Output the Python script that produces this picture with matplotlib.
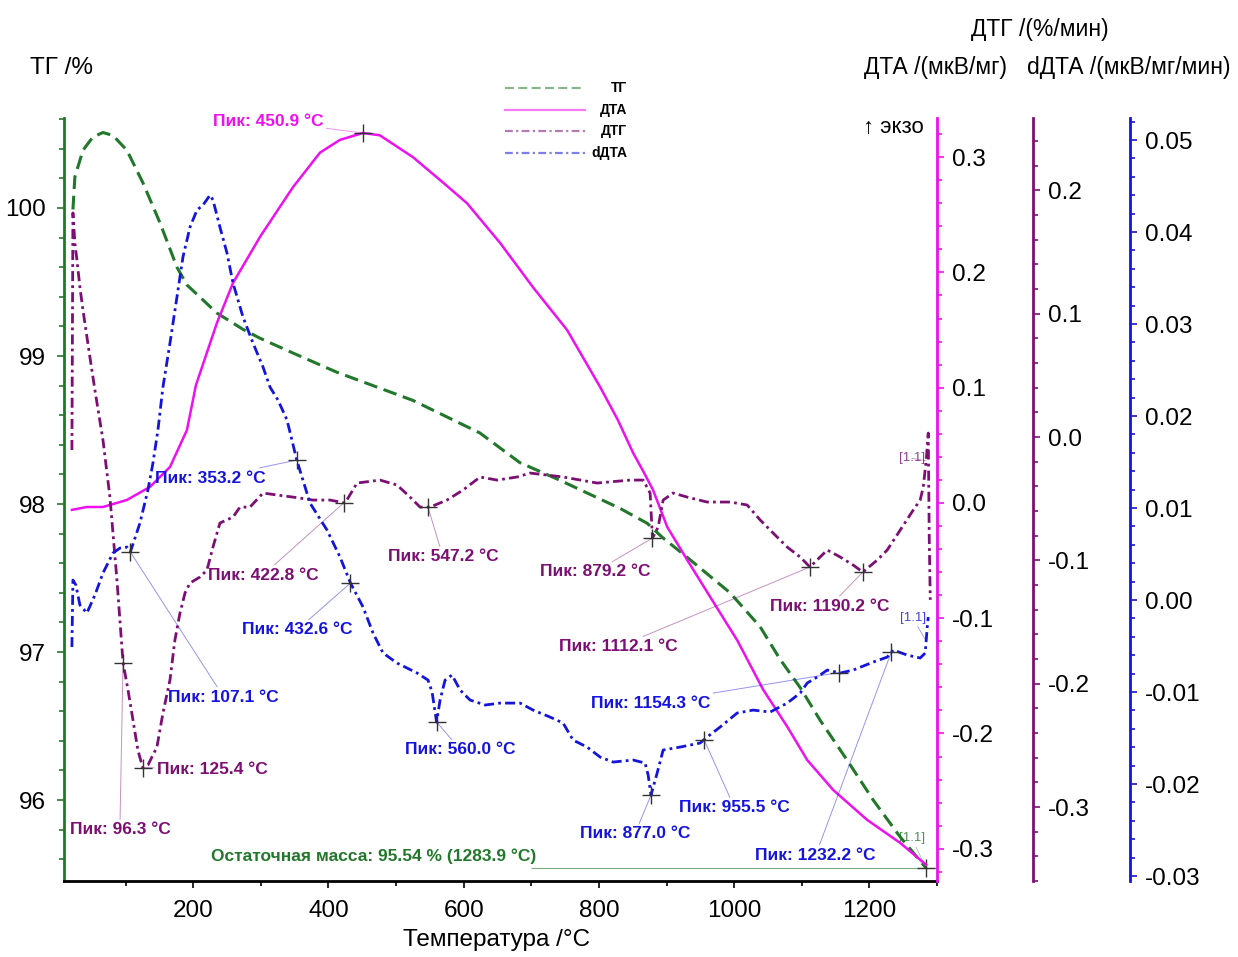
import numpy as np
import matplotlib.pyplot as plt
from matplotlib.lines import Line2D
from matplotlib.ticker import MultipleLocator

plt.rcParams['font.family'] = ['Liberation Sans', 'DejaVu Sans']

# ТГ, %
tg_t = [22.2, 25.1, 37.0, 51.8, 66.6, 81.4, 102.0, 125.7, 150.9, 176.0, 190.8, 235.2,
        273.7, 298.8, 347.6, 412.7, 525.0, 624.0, 683.0, 742.6, 831.4, 871.3, 895.0,
        930.5, 994.0, 1038.5, 1068.0, 1097.6, 1127.0, 1167.0, 1205.6, 1245.6, 1283.9]
tg_v = [99.99, 100.21, 100.39, 100.48, 100.51, 100.49, 100.39, 100.17, 99.90, 99.60, 99.48, 99.29,
        99.18, 99.12, 99.02, 98.89, 98.70, 98.48, 98.28, 98.16, 97.97, 97.87, 97.77,
        97.64, 97.40, 97.17, 96.95, 96.76, 96.54, 96.27, 96.00, 95.75, 95.54]

# ДТА, мкВ/мг
dta_t = [20.7, 42.9, 66.6, 102.0, 136.0, 165.7, 190.8, 204.0, 235.0, 259.0, 299.0, 347.6,
         387.6, 417.0, 450.9, 476.0, 525.0, 569.5, 605.0, 654.0, 702.7, 753.0, 801.8, 828.0,
         850.6, 866.0, 880.0, 901.0, 930.5, 964.5, 1004.4, 1042.9, 1078.4, 1108.0, 1146.4,
         1196.7, 1245.6, 1283.9]
dta_v = [-0.006, -0.0035, -0.0035, 0.0026, 0.0139, 0.0312, 0.0633, 0.102, 0.156, 0.191, 0.231, 0.274,
         0.304, 0.315, 0.321, 0.319, 0.300, 0.278, 0.260, 0.2255, 0.187, 0.150, 0.1006, 0.072,
         0.0434, 0.027, 0.0113, -0.0208, -0.0494, -0.0815, -0.119, -0.162, -0.194, -0.223, -0.249,
         -0.275, -0.295, -0.314]

# ДТГ, %/мин
dtg_t = [20.7, 22.2, 25.1, 28.1, 32.5, 37.0, 47.3, 54.7, 66.6, 76.9, 87.3, 96.3, 103.6, 111.0,
         118.3, 125.4, 133.1, 146.4, 155.3, 165.7, 173.0, 180.5, 187.9, 195.3, 210.0, 220.4,
         229.3, 239.6, 258.9, 269.2, 284.0, 303.3, 324.0, 347.6, 377.2, 402.4, 424.6, 442.3,
         476.3, 501.5, 520.7, 535.5, 550.3, 575.4, 599.0, 624.3, 649.4, 679.0, 698.2, 747.0,
         797.3, 846.2, 865.4, 875.7, 879.2, 887.6, 895.0, 909.8, 930.5, 960.0, 994.0, 1019.2,
         1038.5, 1057.7, 1078.4, 1097.6, 1112.1, 1137.6, 1156.8, 1176.0, 1190.2, 1211.5, 1226.3,
         1245.6, 1264.8, 1275.1, 1279.6, 1284.0, 1287.0, 1288.5, 1290.0]
dtg_v = [-0.0105, 0.1817, 0.157, 0.1436, 0.1217, 0.103, 0.0649, 0.0381, -0.0024, -0.0487, -0.116,
         -0.183, -0.205, -0.2295, -0.254, -0.268, -0.266, -0.2514, -0.2238, -0.197, -0.1646,
         -0.1427, -0.1265, -0.1184, -0.1135, -0.1079, -0.0892, -0.0697, -0.0649, -0.0568,
         -0.0568, -0.0454, -0.047, -0.0487, -0.0511, -0.0511, -0.0535, -0.0373, -0.0349,
         -0.0389, -0.0487, -0.0568, -0.0568, -0.0511, -0.043, -0.0324, -0.0349, -0.0324,
         -0.0292, -0.0324, -0.0373, -0.0349, -0.0349, -0.0454, -0.0819, -0.073, -0.0511,
         -0.0454, -0.0487, -0.0527, -0.0527, -0.0551, -0.0673, -0.0779, -0.0892, -0.0973,
         -0.1054, -0.0916, -0.0973, -0.1038, -0.1095, -0.0998, -0.0916, -0.0754, -0.0592,
         -0.0511, -0.0406, -0.0187, 0.0032, -0.0835, -0.132]

# dДТА, мкВ/мг/мин
ddta_t = [20.7, 22.2, 26.6, 32.5, 42.9, 54.7, 66.6, 81.4, 91.7, 102.0, 107.1, 121.3, 133.1,
          140.5, 147.9, 155.3, 165.7, 176.0, 184.9, 195.3, 205.6, 214.5, 224.9, 229.3, 239.6,
          250.0, 258.9, 273.7, 288.5, 303.3, 313.6, 325.4, 338.8, 353.2, 372.8, 397.9, 417.2,
          432.6, 451.2, 466.0, 480.8, 501.5, 531.1, 547.3, 553.3, 560.0, 565.1, 572.5, 582.8,
          594.7, 609.5, 631.7, 653.8, 683.4, 702.7, 727.8, 747.0, 761.8, 782.5, 801.8, 821.0,
          850.6, 868.3, 872.8, 877.0, 886.1, 895.0, 920.1, 949.7, 960.0, 979.3, 1004.4, 1028.1,
          1053.3, 1078.4, 1097.6, 1108.0, 1122.8, 1137.6, 1156.8, 1176.0, 1205.6, 1226.3,
          1235.2, 1255.9, 1275.1, 1282.5, 1285.5, 1287.0]
ddta_v = [-0.00511, 0.00217, 0.00163, -0.00054, -0.00141, 0.00054, 0.00293, 0.00511, 0.00565,
          0.00576, 0.00522, 0.00837, 0.01196, 0.01489, 0.01848, 0.02315, 0.02793, 0.03293,
          0.03728, 0.04054, 0.04239, 0.04293, 0.04402, 0.04348, 0.04054, 0.03772, 0.03446,
          0.03076, 0.02793, 0.02533, 0.02315, 0.02174, 0.01957, 0.01522, 0.01054, 0.00761,
          0.00467, 0.00185, -0.00076, -0.00359, -0.00576, -0.00685, -0.00793, -0.0087, -0.01,
          -0.01326, -0.01087, -0.0087, -0.00815, -0.00978, -0.01087, -0.01141, -0.0112, -0.0112,
          -0.01196, -0.01272, -0.01337, -0.01522, -0.01598, -0.01707, -0.01761, -0.01739,
          -0.01772, -0.01902, -0.0212, -0.0188, -0.0163, -0.01598, -0.01554, -0.01489, -0.0138,
          -0.01228, -0.01196, -0.01217, -0.0112, -0.01011, -0.00902, -0.00837, -0.00761,
          -0.00793, -0.00761, -0.00674, -0.0062, -0.00543, -0.00598, -0.0063, -0.00576,
          -0.00293, -0.00185]

# отмеченные пики: температура, положение подписи (доли осей)
dta_peaks = [(450.9, (0.234, 0.996))]
dtg_peaks = [(96.3, (0.064, 0.067)), (125.4, (0.170, 0.146)), (422.8, (0.228, 0.401)),
             (547.2, (0.434, 0.425)), (879.2, (0.608, 0.405)), (1112.1, (0.635, 0.307)),
             (1190.2, (0.877, 0.360))]
ddta_peaks = [(107.1, (0.183, 0.241)), (353.2, (0.168, 0.528)), (432.6, (0.267, 0.329)),
              (560.0, (0.454, 0.172)), (877.0, (0.654, 0.062)), (955.5, (0.768, 0.096)),
              (1154.3, (0.672, 0.233)), (1232.2, (0.861, 0.034))]
residual_t, residual_m = 1283.9, 95.54

c_tg = '#22782a'
c_dta = '#ee10ee'
c_dtg = '#7d0f74'
c_ddta = '#1414dc'
c_cross = '#333333'

fig = plt.figure(figsize=(12.38, 9.57), dpi=100)
ax = fig.add_axes([0.0517, 0.0794, 0.7052, 0.7973])
ax2 = ax.twinx()
ax3 = ax.twinx()
ax4 = ax.twinx()

ax.plot(tg_t, tg_v, color=c_tg, lw=2.2, dashes=(4.5, 2.2))
ax2.plot(dta_t, dta_v, color=c_dta, lw=1.8)
ax3.plot(dtg_t, dtg_v, color=c_dtg, lw=2.0, dashes=(3.6, 1.5, 1.0, 1.5))
ax4.plot(ddta_t, ddta_v, color=c_ddta, lw=2.0, dashes=(3.6, 1.5, 1.0, 1.5))

ax.set_xlim(9, 1300)
ax.set_ylim(95.453, 100.608)
ax2.set_ylim(-0.328, 0.334)
ax3.set_ylim(-0.360, 0.2587)
ax4.set_ylim(-0.03054, 0.0524)

tick_kw = dict(labelsize=17.5, direction='out')
ax.xaxis.set_major_locator(MultipleLocator(200))
ax.xaxis.set_minor_locator(MultipleLocator(100))
ax.yaxis.set_major_locator(MultipleLocator(1))
ax.yaxis.set_minor_locator(MultipleLocator(0.2))
ax.tick_params(axis='x', which='major', length=5, width=1.2, pad=9, **tick_kw)
ax.tick_params(axis='x', which='minor', length=3.5, width=1.2)
ax.tick_params(axis='y', which='major', length=5, width=1.2, pad=8, color=c_tg, **tick_kw)
ax.tick_params(axis='y', which='minor', length=3.5, width=1.2, color=c_tg)

for a, col, major, minor in [(ax2, c_dta, 0.1, 0.02), (ax3, c_dtg, 0.1, 0.02), (ax4, c_ddta, 0.01, 0.002)]:
    a.yaxis.set_major_locator(MultipleLocator(major))
    a.yaxis.set_minor_locator(MultipleLocator(minor))
    a.tick_params(axis='y', which='major', length=5, width=1.2, pad=6, color=col, **tick_kw)
    a.tick_params(axis='y', which='minor', length=3.5, width=1.2, color=col)
    for s in ['top', 'left', 'bottom']:
        a.spines[s].set_visible(False)
    a.spines['right'].set_color(col)
    a.spines['right'].set_linewidth(2.0)

ax2.yaxis.set_major_formatter(plt.FormatStrFormatter('%.1f'))
ax3.yaxis.set_major_formatter(plt.FormatStrFormatter('%.1f'))
ax4.yaxis.set_major_formatter(plt.FormatStrFormatter('%.2f'))
ax3.spines['right'].set_position(('axes', 1.110))
ax4.spines['right'].set_position(('axes', 1.221))

ax.spines['top'].set_visible(False)
ax.spines['right'].set_visible(False)
ax.spines['left'].set_color(c_tg)
ax.spines['left'].set_linewidth(2.0)
ax.spines['bottom'].set_linewidth(2.0)


def mark(a, t, v, tp, pos, color, text=None):
    y = np.interp(tp, t, v)
    a.plot(tp, y, marker='+', ms=13, mew=1.0, color=c_cross, zorder=6)
    if text is None:
        text = 'Пик: %.1f °C' % tp
    a.annotate(text, xy=(tp, y), xytext=pos, textcoords='axes fraction',
               ha='center', va='center', color=color, fontsize=12.5, fontweight='bold',
               arrowprops=dict(arrowstyle='-', color=color, lw=0.7, alpha=0.45,
                               shrinkA=0, shrinkB=0),
               annotation_clip=False)


for tp, pos in dta_peaks:
    mark(ax2, dta_t, dta_v, tp, pos, c_dta)
for tp, pos in dtg_peaks:
    mark(ax3, dtg_t, dtg_v, tp, pos, c_dtg)
for tp, pos in ddta_peaks:
    mark(ax4, ddta_t, ddta_v, tp, pos, c_ddta)

# остаточная масса
ax.plot(residual_t, residual_m, marker='+', ms=13, mew=1.0, color=c_cross, zorder=6)
ax.hlines(residual_m, 700, 1300, color=c_tg, lw=0.8, alpha=0.6)
ax.text(0.355, 0.033, 'Остаточная масса: %.2f %% (%.1f °C)' % (residual_m, residual_t),
        transform=ax.transAxes, ha='center', va='center', color=c_tg,
        fontsize=12.5, fontweight='bold')

# метки [1.1] у концов кривых
for a, t, v, col, pos in [(ax3, dtg_t, dtg_v, c_dtg, (0.971, 0.554)),
                          (ax4, ddta_t, ddta_v, c_ddta, (0.972, 0.345)),
                          (ax, tg_t, tg_v, c_tg, (0.971, 0.056))]:
    a.annotate('[1.1]', xy=(1283.9, np.interp(1283.9, t, v)), xytext=pos,
               textcoords='axes fraction', ha='center', va='center', color=col,
               fontsize=9.5, alpha=0.8,
               arrowprops=dict(arrowstyle='-', color=col, lw=0.6, alpha=0.45,
                               shrinkA=0, shrinkB=0))

ax.text(0.950, 0.988, '↑ экзо', transform=ax.transAxes, ha='center', va='center',
        fontsize=16)

# подписи осей
fig.text(0.050, 0.929, 'ТГ /%', ha='center', va='center', fontsize=17.5)
fig.text(0.4015, 0.018, 'Температура /°C', ha='center', va='center', fontsize=17.5)
fig.text(0.840, 0.969, 'ДТГ /(%/мин)', ha='center', va='center', fontsize=16.5)
fig.text(0.756, 0.929, 'ДТА /(мкВ/мг)', ha='center', va='center', fontsize=16.5)
fig.text(0.912, 0.929, 'dДТА /(мкВ/мг/мин)', ha='center', va='center', fontsize=16.5)

# легенда
legend_rows = [('ТГ', c_tg, (4, 2)), ('ДТА', c_dta, None),
               ('ДТГ', c_dtg, (3.5, 1.5, 1, 1.5)), ('dДТА', c_ddta, (3.5, 1.5, 1, 1.5))]
for i, (name, col, dash) in enumerate(legend_rows):
    y = 0.908 - i * 0.0225
    line = Line2D([0.408, 0.4725], [y, y], transform=fig.transFigure, color=col,
                  lw=1.6, alpha=0.55)
    if dash:
        line.set_dashes(dash)
    fig.add_artist(line)
    fig.text(0.5065, y, name, ha='right', va='center', fontsize=10, fontweight='bold')

fig.savefig('out.png', dpi=100)
